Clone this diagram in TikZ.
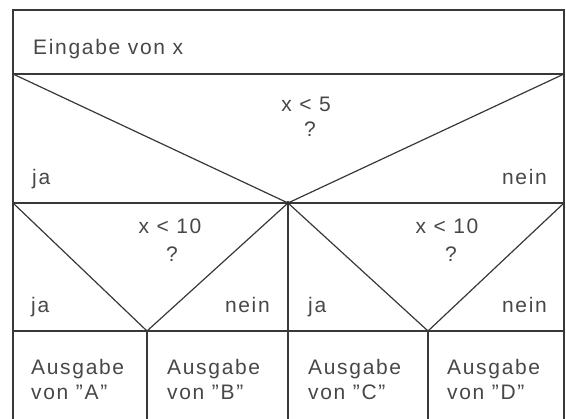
\documentclass[tikz,border=0pt]{standalone}
\usepackage{fontspec}
\setmainfont{Liberation Sans}[LetterSpace=8]
\begin{document}
\begin{tikzpicture}[x=1pt,y=-1pt,
  ln/.style={line width=1.2pt, draw=black!78, line join=miter},
  lbl/.style={inner sep=0pt, text=black!72, font=\fontsize{21}{25}\selectfont}]
\useasboundingbox (0,0) rectangle (566,419);
% frame coordinates
\coordinate (TL) at (13,10);
\coordinate (TR) at (564,10);
\coordinate (L1) at (13,74);
\coordinate (R1) at (564,74);
\coordinate (A)  at (288,203);
\coordinate (L2) at (13,203);
\coordinate (R2) at (564,203);
\coordinate (B)  at (147,331);
\coordinate (C)  at (428,331);
\coordinate (L3) at (13,331);
\coordinate (R3) at (564,331);
\coordinate (BL) at (13,419);
\coordinate (BR) at (564,419);
\coordinate (BA) at (288,419);
\coordinate (BB) at (147,419);
\coordinate (BC) at (428,419);
% lines
\draw[ln] (BL) -- (TL) -- (TR) -- (BR);
\draw[ln] (L1) -- (R1);
\draw[ln] (L2) -- (R2);
\draw[ln] (L3) -- (R3);
\draw[ln] (L1) -- (A) -- (R1);
\draw[ln] (L2) -- (B) -- (A) -- (C) -- (R2);
\draw[ln] (A) -- (BA);
\draw[ln] (B) -- (BB);
\draw[ln] (C) -- (BC);
\fill[black!80] (A) circle (2pt);
% texts
\node[lbl, anchor=base west] (in) at (33,55) {Eingabe von x};
\node[lbl, anchor=base] (c1) at (306,112) {x < 5};
\node[lbl, anchor=base] (q1) at (310,137) {?};
\node[lbl, anchor=base west] (ja1) at (32,185) {ja};
\node[lbl, anchor=base east] (ne1) at (547,185) {nein};
\node[lbl, anchor=base] (c2) at (170,234) {x < 10};
\node[lbl, anchor=base] (q2) at (172,262) {?};
\node[lbl, anchor=base west] (ja2) at (31,313) {ja};
\node[lbl, anchor=base east] (ne2) at (270,313) {nein};
\node[lbl, anchor=base] (c3) at (447,234) {x < 10};
\node[lbl, anchor=base] (q3) at (451,262) {?};
\node[lbl, anchor=base west] (ja3) at (308,313) {ja};
\node[lbl, anchor=base east] (ne3) at (547,313) {nein};
\node[lbl, anchor=base west, align=left] (oA) at (31,400) {Ausgabe\\von "A"};
\node[lbl, anchor=base west, align=left] (oB) at (167,400) {Ausgabe\\von "B"};
\node[lbl, anchor=base west, align=left] (oC) at (308,400) {Ausgabe\\von "C"};
\node[lbl, anchor=base west, align=left] (oD) at (447,400) {Ausgabe\\von "D"};
\end{tikzpicture}
\end{document}
